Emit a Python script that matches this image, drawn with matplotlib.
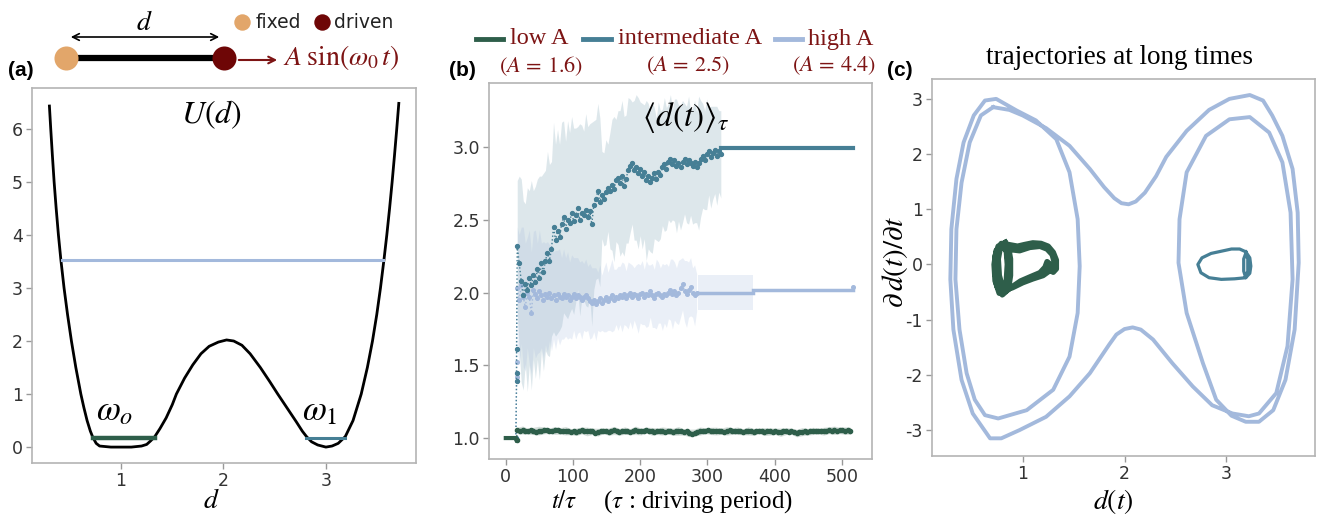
import numpy as np
import matplotlib
matplotlib.use('Agg')
import matplotlib.pyplot as plt

plt.rcParams['mathtext.fontset'] = 'stix'
plt.rcParams['axes.unicode_minus'] = False

c_low = '#2e5e4a'
c_mid = '#467f95'
c_high = '#a3b9dc'
c_red = '#7d1414'
serif = 'Liberation Serif'

# ---------------- (a) double-well potential U(d)
pot_d = [0.300, 0.313, 0.329, 0.346, 0.366, 0.388, 0.412, 0.443, 0.477, 0.515, 0.558, 0.607, 0.636,
         0.668, 0.700, 0.725, 0.757, 0.790, 0.90, 1.00, 1.10, 1.20, 1.25, 1.29, 1.33, 1.38, 1.44, 1.50,
         1.54, 1.62, 1.70, 1.78, 1.86, 1.95, 2.03, 2.10, 2.18, 2.26, 2.36, 2.45, 2.53, 2.62,
         2.71, 2.77, 2.81, 2.86, 2.92, 3.00, 3.06, 3.12, 3.19, 3.265, 3.345, 3.405, 3.455,
         3.497, 3.533, 3.567, 3.595, 3.622, 3.647, 3.670, 3.692, 3.712]
pot_U = [6.43, 6.00, 5.50, 5.00, 4.50, 4.00, 3.53, 3.00, 2.50, 2.00, 1.50, 1.00, 0.75,
         0.50, 0.30, 0.18, 0.07, 0.02, 0.00, 0.00, 0.00, 0.02, 0.05, 0.12, 0.20, 0.35, 0.55, 0.80,
         1.00, 1.30, 1.55, 1.76, 1.90, 1.98, 2.02, 2.00, 1.92, 1.76, 1.50, 1.24, 1.00, 0.74,
         0.48, 0.30, 0.20, 0.10, 0.04, 0.00, 0.02, 0.07, 0.20, 0.50, 1.00, 1.50, 2.00,
         2.50, 3.00, 3.53, 4.00, 4.50, 5.00, 5.50, 6.00, 6.48]
lvl_high_d, lvl_high_U = [0.425, 3.555], 3.53
lvl_low_d, lvl_low_U = [0.73, 1.33], 0.18
lvl_mid_d, lvl_mid_U = [2.81, 3.19], 0.18

# ---------------- (b) <d(t)>_tau for the three amplitudes
amp_names = ['low A', 'intermediate A', 'high A']
amp_values = [1.6, 2.5, 4.4]

low_init_t = [0, 4, 8, 12, 15, 16]
low_init_y = [1.0, 1.0, 1.0, 1.0, 1.0, 0.985]
low_y = [1.052, 1.048, 1.055, 1.050, 1.046, 1.053, 1.049, 1.044, 1.051, 1.047,
         1.053, 1.056, 1.050, 1.046, 1.052, 1.055, 1.049, 1.045, 1.050, 1.048,
         1.044, 1.047, 1.043, 1.049, 1.052, 1.048, 1.045, 1.051, 1.047, 1.036,
         1.040, 1.046, 1.050, 1.047, 1.044, 1.049, 1.052, 1.046, 1.043, 1.048,
         1.051, 1.047, 1.044, 1.050, 1.053, 1.048, 1.045, 1.049, 1.055, 1.050,
         1.046, 1.043, 1.047, 1.051, 1.048, 1.044, 1.050, 1.047, 1.043, 1.046,
         1.049, 1.045, 1.041, 1.046, 1.035, 1.030, 1.038, 1.044, 1.048, 1.046,
         1.050, 1.053, 1.049, 1.045, 1.048, 1.051, 1.047, 1.044, 1.049, 1.052,
         1.048, 1.045, 1.050, 1.047, 1.043, 1.046, 1.049, 1.045, 1.042, 1.047,
         1.050, 1.046, 1.044, 1.048, 1.045, 1.041, 1.046, 1.043, 1.040, 1.045,
         1.048, 1.044, 1.047, 1.043, 1.034, 1.039, 1.044, 1.047, 1.043, 1.046,
         1.049, 1.045, 1.048, 1.051, 1.047, 1.050, 1.054, 1.050, 1.053, 1.049,
         1.052, 1.055, 1.051, 1.054, 1.050]
low_err = [0.022, 0.028, 0.020, 0.025, 0.030, 0.024, 0.019, 0.027, 0.023, 0.029,
           0.021, 0.026, 0.024, 0.030, 0.022, 0.027, 0.020, 0.025, 0.028, 0.023,
           0.026, 0.021, 0.029, 0.024, 0.020, 0.027, 0.023, 0.028, 0.022, 0.025,
           0.030, 0.021, 0.026, 0.024, 0.028, 0.020, 0.025, 0.027, 0.022, 0.029,
           0.023, 0.026, 0.021, 0.028, 0.024, 0.020, 0.027, 0.025, 0.022, 0.029,
           0.024, 0.021, 0.026, 0.028, 0.023, 0.025, 0.020, 0.027, 0.024, 0.029,
           0.022, 0.026, 0.024]

mid_jump_t = [15, 16, 16, 16]
mid_jump_y = [1.0, 1.39, 1.45, 1.61]
mid_y = [2.32, 2.20, 2.08, 1.98, 2.06, 2.02, 2.10, 2.05, 2.12, 2.07, 2.16, 2.10,
         2.20, 2.14, 2.22, 2.27, 2.22, 2.30, 2.45, 2.36, 2.42, 2.38, 2.47, 2.52, 2.44, 2.50, 2.48, 2.55,
         2.49, 2.53, 2.58, 2.50, 2.55, 2.53, 2.57, 2.52, 2.56, 2.47, 2.60, 2.64, 2.70, 2.62,
         2.67, 2.64, 2.69, 2.72, 2.70, 2.74, 2.71, 2.77, 2.79, 2.75, 2.80, 2.73, 2.78, 2.84, 2.87, 2.89, 2.84, 2.86,
         2.82, 2.85, 2.80, 2.83, 2.77, 2.80, 2.76, 2.79, 2.82, 2.78, 2.83, 2.81, 2.86, 2.88, 2.85, 2.90, 2.92, 2.88, 2.91, 2.87,
         2.89, 2.86, 2.90, 2.92, 2.88, 2.91, 2.89, 2.87, 2.90, 2.86, 2.89, 2.92, 2.94, 2.91, 2.95, 2.97, 2.93, 2.96, 2.98, 2.94,
         2.97, 2.95]
mid_err = [0.45, 0.60, 0.70, 0.65, 0.55, 0.70, 0.60, 0.72, 0.58, 0.66, 0.62, 0.70,
           0.60, 0.68, 0.62, 0.70, 0.66, 0.60, 0.72, 0.66, 0.70, 0.64, 0.70, 0.66, 0.60, 0.68, 0.62, 0.66,
           0.64, 0.60, 0.56, 0.66, 0.60, 0.58, 0.66, 0.62, 0.60, 0.70, 0.58, 0.55, 0.60, 0.58,
           0.30, 0.32, 0.36, 0.30, 0.40, 0.45, 0.50, 0.42, 0.46, 0.50, 0.52, 0.48, 0.44, 0.50, 0.46, 0.42, 0.48, 0.50,
           0.52, 0.46, 0.50, 0.46, 0.55, 0.50, 0.48, 0.52, 0.45, 0.42, 0.48, 0.44, 0.40, 0.46, 0.42, 0.40, 0.44, 0.38, 0.42, 0.46,
           0.40, 0.43, 0.42, 0.38, 0.40, 0.44, 0.36, 0.40, 0.42, 0.38, 0.46, 0.40, 0.36, 0.34, 0.38, 0.30, 0.35, 0.32, 0.30, 0.34,
           0.28, 0.30]
mid_flat_t = [320, 517]
mid_flat_y = [2.99, 2.99]

high_jump_t = [15, 16, 16]
high_jump_y = [1.0, 1.42, 1.52]
high_y = [2.03, 1.95, 2.05, 1.97, 1.90, 2.00, 1.97, 1.86, 2.02, 1.99,
          1.96, 2.01, 1.98, 1.95, 1.99, 1.97, 2.00, 1.96, 1.98, 1.95,
          1.99, 1.97, 1.96, 1.99, 1.97, 1.98, 1.95, 1.97, 1.99, 1.96,
          1.98, 1.97, 1.95, 1.97, 1.98, 1.96, 1.94, 1.93, 1.95, 1.92,
          1.94, 1.96, 1.93, 1.95, 1.97, 1.94, 1.96, 1.98, 1.95, 1.97,
          1.96, 1.98, 1.97, 1.99, 1.96, 1.98, 2.00, 1.97, 1.99, 1.98,
          1.96, 1.99, 2.00, 1.97, 1.99, 1.98, 2.01, 1.98, 1.96, 1.99,
          2.00, 1.98, 1.97, 1.99, 1.98, 2.00, 2.02, 1.99, 2.01, 1.98,
          2.00, 2.03, 2.06, 2.01, 1.99, 2.02, 2.04, 2.00, 1.98, 2.00]
high_err = [0.42, 0.45, 0.40, 0.48, 0.44, 0.38, 0.46, 0.42, 0.40, 0.44,
            0.38, 0.42, 0.36, 0.40, 0.35, 0.38, 0.33, 0.36, 0.30, 0.34,
            0.30, 0.33, 0.28, 0.31, 0.27, 0.30, 0.26, 0.29, 0.25, 0.28,
            0.26, 0.24, 0.27, 0.23, 0.25, 0.22, 0.26, 0.24, 0.22, 0.25,
            0.20, 0.23, 0.19, 0.22, 0.24, 0.20, 0.22, 0.25, 0.21, 0.19,
            0.22, 0.20, 0.24, 0.21, 0.19, 0.23, 0.20, 0.22, 0.18, 0.21,
            0.24, 0.20, 0.22, 0.19, 0.23, 0.21, 0.18, 0.22, 0.20, 0.24,
            0.21, 0.19, 0.23, 0.20, 0.22, 0.18, 0.21, 0.24, 0.20, 0.19,
            0.22, 0.20, 0.18, 0.21, 0.23, 0.19, 0.20, 0.17, 0.21, 0.13]
high_flat1_t, high_flat1_y, high_flat1_err = [286, 368], [2.0, 2.0], [0.12, 0.12]
high_flat2_t, high_flat2_y = [368, 517], [2.02, 2.02]
high_last_t, high_last_y = [517], [2.04]

low_t = 17 + 4 * np.arange(len(low_y))
mid_t = 17 + 3 * np.arange(len(mid_y))
high_t = 17 + 3 * np.arange(len(high_y))

# ---------------- (c) phase-space trajectories at long times
high_traj_d = [0.71, 0.87, 1.00, 1.23, 1.46, 1.66, 1.80, 1.90, 1.97, 2.04, 2.11, 2.20, 2.31, 2.41, 2.61, 2.83, 3.03, 3.23,
               3.36, 3.45, 3.55, 3.65, 3.70, 3.71, 3.67, 3.58, 3.46, 3.32, 3.19,
               3.05, 2.90, 2.77, 2.61, 2.53, 2.54, 2.61, 2.80, 3.03, 3.23,
               3.42, 3.55, 3.63, 3.65, 3.60, 3.49, 3.32, 3.22,
               3.06, 2.86, 2.67, 2.47, 2.28, 2.16, 2.08, 2.00, 1.92, 1.85, 1.66, 1.46, 1.23, 0.97, 0.79,
               0.68, 0.51, 0.40, 0.32, 0.29, 0.30, 0.35, 0.42, 0.52, 0.63, 0.74,
               0.94, 1.13, 1.33, 1.46, 1.54, 1.56, 1.54, 1.46, 1.30, 1.04, 0.76,
               0.63, 0.53, 0.45, 0.38, 0.34, 0.35, 0.40, 0.48, 0.59, 0.71]
high_traj_v = [2.85, 2.80, 2.70, 2.47, 2.15, 1.73, 1.40, 1.20, 1.11, 1.09, 1.14, 1.30, 1.60, 1.95, 2.42, 2.80, 3.00, 3.07,
               2.97, 2.70, 2.33, 1.73, 0.94, 0.03, -1.18, -2.09, -2.64, -2.85, -2.85,
               -2.74, -2.45, -1.79, -0.88, 0.03, 0.82, 1.67, 2.33, 2.63, 2.67,
               2.39, 1.85, 0.94, -0.27, -1.48, -2.33, -2.70, -2.75,
               -2.70, -2.55, -2.21, -1.79, -1.36, -1.18, -1.14, -1.17, -1.27, -1.45, -1.97, -2.39, -2.76, -3.00, -3.15,
               -3.15, -2.70, -2.09, -1.18, -0.27, 0.64, 1.55, 2.21, 2.70, 2.97, 3.00,
               2.79, 2.61, 2.27, 1.67, 0.82, -0.03, -0.88, -1.67, -2.27, -2.64, -2.79,
               -2.73, -2.45, -1.97, -1.18, -0.27, 0.64, 1.48, 2.21, 2.70, 2.85]

mid_traj_d = [3.19, 3.23, 3.24, 3.23, 3.19, 3.17, 3.17, 3.19, 3.21, 3.21, 3.19,
              3.08, 2.95, 2.83, 2.75, 2.72, 2.76, 2.85, 2.95, 3.05, 3.13, 3.19]
mid_traj_v = [0.23, 0.12, -0.03, -0.16, -0.24, -0.12, 0.10, 0.20, 0.10, -0.12, -0.24,
              -0.26, -0.27, -0.24, -0.15, 0.00, 0.12, 0.20, 0.24, 0.28, 0.28, 0.23]

low_traj_d = [0.83, 0.76, 0.73, 0.73, 0.75, 0.80, 0.86, 0.88, 0.88, 0.86, 0.83,
              0.81, 0.74, 0.72, 0.73, 0.78, 0.84, 0.86, 0.85, 0.81,
              0.78, 0.76, 0.77, 0.80, 0.84, 0.85, 0.84, 0.80,
              0.86, 0.95, 1.02, 1.10, 1.18, 1.25, 1.30, 1.33, 1.33, 1.30, 1.27, 1.26, 1.24, 1.22,
              1.17, 1.08, 0.98, 0.90, 0.82, 0.77, 0.74, 0.74, 0.75, 0.79,
              0.88, 0.97, 1.07, 1.17, 1.24, 1.29, 1.31, 1.29, 1.20, 1.10, 1.00, 0.90, 0.80]
low_traj_v = [0.40, 0.33, 0.15, -0.15, -0.40, -0.55, -0.45, -0.20, 0.10, 0.32, 0.40,
              0.36, 0.25, 0.00, -0.30, -0.50, -0.42, -0.10, 0.20, 0.36,
              0.30, 0.10, -0.20, -0.40, -0.30, 0.00, 0.25, 0.33,
              0.36, 0.33, 0.36, 0.39, 0.38, 0.33, 0.22, 0.08, -0.08, -0.14, -0.10, 0.02, 0.05, -0.05,
              -0.15, -0.22, -0.30, -0.40, -0.50, -0.52, -0.35, -0.10, 0.20, 0.38,
              0.27, 0.25, 0.31, 0.33, 0.28, 0.18, 0.05, -0.08, -0.20, -0.26, -0.33, -0.42, -0.48]

# ---------------- figure
W, H = 1317, 514
fig = plt.figure(figsize=(W / 100, H / 100), dpi=100)


def style(ax):
    for s in ax.spines.values():
        s.set_color('#b4b4b4')
        s.set_linewidth(1.2)
    ax.tick_params(labelsize=12.5, labelcolor='#333333', color='#999999', length=4, width=1, pad=2.5)


axa = fig.add_axes([32 / W, (H - 463) / H, 384 / W, 375 / H])
axb = fig.add_axes([489 / W, (H - 459) / H, 383 / W, 376 / H])
axc = fig.add_axes([932 / W, (H - 456) / H, 383 / W, 377 / H])
for ax in (axa, axb, axc):
    style(ax)

# (a)
axa.plot(pot_d, pot_U, color='k', lw=2)
axa.plot(lvl_high_d, [lvl_high_U] * 2, color=c_high, lw=2.2)
axa.plot(lvl_low_d, [lvl_low_U] * 2, color=c_low, lw=3.2)
axa.plot(lvl_mid_d, [lvl_mid_U] * 2, color=c_mid, lw=2.2)
axa.set_xlim(0.13, 3.88)
axa.set_ylim(-0.3, 6.77)
axa.set_xticks([1, 2, 3])
axa.set_yticks(range(7))
axa.text(0.466, 0.928, '$U(d)$', transform=axa.transAxes, fontsize=23, ha='center', va='center')
axa.text(0.216, 0.141, r'$\omega_o$', transform=axa.transAxes, fontsize=25, ha='center', va='center')
axa.text(0.75, 0.141, r'$\omega_1$', transform=axa.transAxes, fontsize=25, ha='center', va='center')
axa.text(0.466, -0.1, '$d$', transform=axa.transAxes, fontsize=20, ha='center', va='center')

# (b)
axb.fill_between(mid_t, np.array(mid_y) - mid_err, np.array(mid_y) + mid_err, color=c_mid, alpha=0.18, lw=0)
axb.fill_between(high_t, np.array(high_y) - high_err, np.array(high_y) + high_err, color=c_high, alpha=0.22, lw=0)
axb.fill_between(high_flat1_t, np.array(high_flat1_y) - high_flat1_err, np.array(high_flat1_y) + high_flat1_err,
                 color=c_high, alpha=0.22, lw=0)
axb.fill_between(low_t[::2], np.array(low_y[::2]) - low_err, np.array(low_y[::2]) + low_err,
                 color=c_low, alpha=0.2, lw=0)

axb.plot(high_jump_t + list(high_t), high_jump_y + high_y, ':', marker='o', ms=2.6, lw=1, color=c_high)
axb.plot(high_flat1_t, high_flat1_y, color=c_high, lw=2.5)
axb.plot(high_flat2_t, high_flat2_y, color=c_high, lw=2.5)
axb.plot(high_last_t, high_last_y, 'o', ms=2.6, color=c_high)

axb.plot(mid_jump_t + list(mid_t), mid_jump_y + mid_y, ':', marker='o', ms=2.8, lw=1, color=c_mid)
axb.plot(mid_flat_t, mid_flat_y, color=c_mid, lw=3)

axb.plot(low_init_t, low_init_y, color=c_low, lw=3)
axb.plot([16] + list(low_t), [0.985] + low_y, ':', marker='o', ms=3, lw=1, color=c_low)

axb.set_xlim(-25, 545)
axb.set_ylim(0.856, 3.44)
axb.set_xticks(range(0, 501, 100))
axb.set_yticks([1.0, 1.5, 2.0, 2.5, 3.0])
axb.set_yticklabels(['1.0', '1.5', '2.0', '2.5', '3.0'])
axb.text(0.514, 0.907, r'$\langle d(t)\rangle_\tau$', transform=axb.transAxes, fontsize=24,
         ha='center', va='center')
axb.text(0.478, -0.114, r'$t/\tau\quad\;\;$(' + r'$\tau$ : driving period)', transform=axb.transAxes,
         fontsize=18, family=serif, ha='center', va='center')

# (c)
axc.plot(high_traj_d, high_traj_v, color=c_high, lw=2.8)
axc.plot(low_traj_d, low_traj_v, color=c_low, lw=4)
axc.plot(mid_traj_d, mid_traj_v, color=c_mid, lw=2.3)
axc.set_xlim(0.11, 3.87)
axc.set_ylim(-3.47, 3.36)
axc.set_xticks([1, 2, 3])
axc.set_yticks(range(-3, 4))
axc.text(0.49, 1.058, 'trajectories at long times', transform=axc.transAxes, fontsize=19.5,
         family=serif, ha='center', va='center')
axc.text(0.474, -0.122, '$d(t)$', transform=axc.transAxes, fontsize=20, ha='center', va='center')
axc.text(-0.097, 0.515, r'$\partial\,d(t)/\partial t$', transform=axc.transAxes, fontsize=21,
         rotation=90, ha='center', va='center')

# overlay in pixel coordinates: schematic, legend, panel letters
ov = fig.add_axes([0, 0, 1, 1])
ov.set_xlim(0, W)
ov.set_ylim(H, 0)
ov.axis('off')
ov.patch.set_alpha(0)

ov.plot([66, 224], [58, 58], color='k', lw=4.5, solid_capstyle='butt', zorder=2)
ov.scatter([66], [58], s=300, color='#e2a66a', zorder=3, lw=0)
ov.scatter([224], [58], s=300, color='#6e0606', zorder=3, lw=0)
ov.annotate('', xy=(222, 37), xytext=(68, 37),
            arrowprops=dict(arrowstyle='<->', color='k', lw=1.2, mutation_scale=12))
ov.text(144, 22, '$d$', fontsize=20, ha='center', va='center')
ov.annotate('', xy=(280, 60), xytext=(236, 60),
            arrowprops=dict(arrowstyle='->', color=c_red, lw=1.5, mutation_scale=12))
ov.text(283, 58, r'$A\;\sin(\omega_0\,t)$', fontsize=20, color=c_red, va='center')
ov.scatter([242], [22], s=140, color='#e2a66a', lw=0)
ov.text(256, 22, 'fixed', fontsize=13.5, va='center', color='#222222')
ov.scatter([322], [22], s=140, color='#6e0606', lw=0)
ov.text(334, 22, 'driven', fontsize=13.5, va='center', color='#222222')

for x, lab in [(21, '(a)'), (462, '(b)'), (900, '(c)')]:
    ov.text(x, 70, lab, fontsize=15, fontweight='bold', family='Liberation Sans', ha='center', va='center')

for (x0, x1, xt, xc), col, name, amp in zip([(476, 503, 510, 541), (583, 611, 618, 688), (775, 802, 808, 834)],
                                        [c_low, c_mid, c_high], amp_names, amp_values):
    ov.plot([x0, x1], [39, 39], color=col, lw=3.5)
    ov.text(xt, 39, name, fontsize=17.5, family=serif, color=c_red, va='center')
    ov.text(xc, 66, r'$(A\,=\,%.1f)$' % amp, fontsize=16, color=c_red, ha='center', va='center')

fig.savefig('out.png', dpi=100)
